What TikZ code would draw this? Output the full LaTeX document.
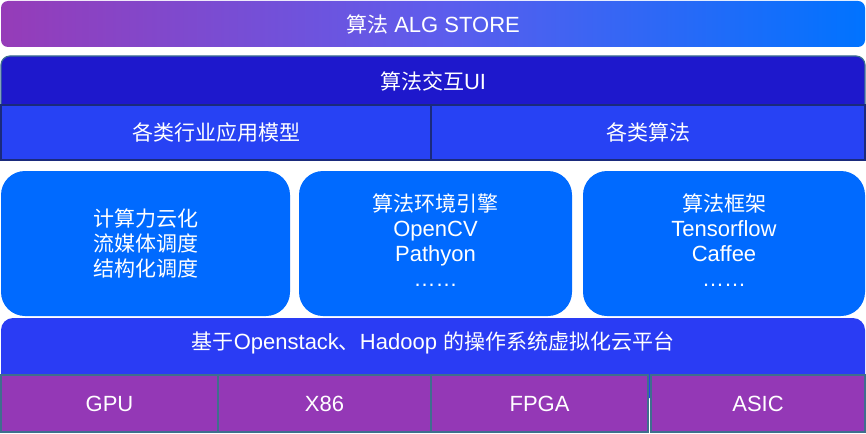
\documentclass[tikz,border=0pt]{standalone}
\usepackage{fontspec}
\setmainfont{Liberation Sans}
\newfontfamily\cjk{Noto Sans CJK SC}
\newcommand{\zh}[1]{{\cjk\fontsize{21}{25}\selectfont #1}}
\definecolor{topL}{HTML}{963CB8}
\definecolor{topM}{HTML}{5E5CEC}
\definecolor{topR}{HTML}{0073FF}
\definecolor{uiC}{HTML}{1E18CC}
\definecolor{uiB}{HTML}{3D7090}
\definecolor{rowC}{HTML}{2742F4}
\definecolor{rowB}{HTML}{1A2A7C}
\definecolor{midC}{HTML}{006AFF}
\definecolor{platC}{HTML}{2A3CF4}
\definecolor{hwC}{HTML}{9438B6}
\definecolor{hwB}{HTML}{3F6E8E}
\begin{document}
\begin{tikzpicture}[x=1pt,y=-1pt,
  lbl/.style={text=white, font=\fontsize{22}{25}\selectfont, align=center, inner sep=0pt},
  box/.style={inner sep=0pt, outer sep=0pt, anchor=north west, text=white,
              font=\fontsize{22}{25}\selectfont, align=center},
  rowbox/.style={box, fill=rowC, draw=rowB, line width=1.5pt, minimum height=55pt},
  midbox/.style={box, fill=midC, rounded corners=24pt, minimum height=145pt},
  hwbox/.style={box, fill=hwC, draw=hwB, line width=2pt, minimum height=57pt}]
\useasboundingbox (0,0) rectangle (866,433);
% top gradient bar
\node[box, rounded corners=7pt, left color=topL, right color=topR, middle color=topM,
      minimum width=864pt, minimum height=46pt] (store) at (1,1) {};
\node[lbl] (storet) at (store.center) {\zh{算法} ALG STORE};
% UI layer
\node[box, fill=uiC, draw=uiB, line width=1.2pt, rounded corners=9pt,
      minimum width=864pt, minimum height=64pt] (ui) at (1,56) {};
\node[lbl] (uit) at (433,81) {\zh{算法交互}UI};
% row
\node[rowbox, minimum width=430pt] (rowa) at (1,105) {\zh{各类行业应用模型}};
\node[rowbox, minimum width=434pt] (rowb) at (431,105) {\zh{各类算法}};
% middle boxes
\node[midbox, minimum width=289pt] (m1) at (1,171) {\zh{计算力云化}\\\zh{流媒体调度}\\\zh{结构化调度}};
\node[midbox, minimum width=273pt] (m2) at (299,171) {};
\node[lbl, yshift=3pt] (m2t) at (m2.center) {\zh{算法环境引擎}\\OpenCV\\Pathyon\\……};
\node[midbox, minimum width=282pt] (m3) at (583,171) {};
\node[lbl, yshift=3pt] (m3t) at (m3.center) {\zh{算法框架}\\Tensorflow\\Caffee\\……};
% platform
\node[box, fill=platC, rounded corners=12pt, minimum width=864pt, minimum height=80pt] (plat) at (1,318) {};
\node[lbl] (platt) at (433,343) {\zh{基于}Openstack\zh{、}Hadoop \zh{的操作系统虚拟化云平台}};
% hardware
\node[hwbox, minimum width=217pt] (gpu) at (1,375) {GPU};
\node[hwbox, minimum width=213pt] (x86) at (218,375) {X86};
\node[hwbox, minimum width=217pt] (fpga) at (431,375) {FPGA};
\node[hwbox, minimum width=214pt] (asic) at (651,375) {ASIC};
\end{tikzpicture}
\end{document}
